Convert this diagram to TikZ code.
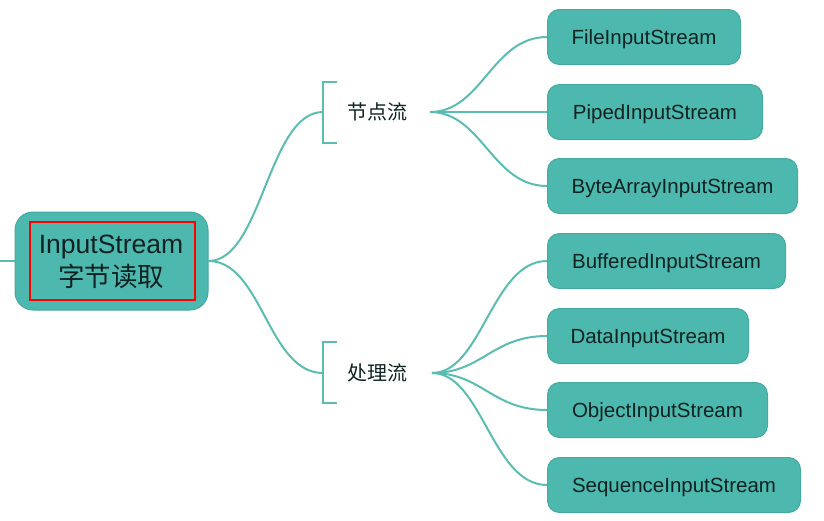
\documentclass[tikz,border=0pt]{standalone}
\usepackage{fontspec}
\setmainfont{Liberation Sans}
\newfontfamily\cjk{Noto Sans CJK SC}
\definecolor{tealfill}{HTML}{4DB8AE}
\definecolor{tealdraw}{HTML}{46A99F}
\definecolor{tealline}{HTML}{5BBDB2}
\definecolor{txt}{HTML}{0E2222}
\begin{document}
\begin{tikzpicture}[x=1pt,y=-1pt,
  leaf/.style={draw=tealdraw,line width=1pt,fill=tealfill,rounded corners=12pt,minimum height=55pt,inner xsep=0pt,text height=14pt,text depth=0pt,anchor=west,text=txt,font=\fontsize{20.5}{24}\selectfont},
  conn/.style={draw=tealline,line width=2pt},
  brk/.style={draw=tealline,line width=2pt},
  cat/.style={text=txt,font=\cjk\fontsize{20}{24}\selectfont,inner sep=0pt}]
\useasboundingbox (0,0) rectangle (824,520);
% main node
\node[draw=tealdraw,line width=1pt,fill=tealfill,rounded corners=18pt,minimum width=193pt,minimum height=98pt] (main) at (111.5,261) {};
\node[draw=red,line width=1.5pt,minimum width=165pt,minimum height=78pt,inner sep=0pt] (red) at (112.5,261) {};
\node[text=txt,align=center,font=\fontsize{26.5}{33}\selectfont] (maintxt) at (111,261.5) {InputStream\\{\cjk 字节读取}};
\coordinate (lin) at (0,261);
\draw[conn] (lin) -- (main.west);
% categories
\node[cat] (c1) at (377,112) {节点流};
\node[cat] (c2) at (377,373) {处理流};
\coordinate (b1) at (323,112);
\coordinate (b2) at (323,373);
\coordinate (f1) at (430,112);
\coordinate (f2) at (432,373);
\draw[brk] (337,82) -- (323,82) -- (323,143) -- (337,143);
\draw[brk] (337,342) -- (323,342) -- (323,403) -- (337,403);
\draw[conn] (main.east) .. controls (262,261) and (268,112) .. (b1);
\draw[conn] (main.east) .. controls (262,261) and (268,373) .. (b2);
% leaves
\node[leaf,minimum width=193pt] (l1) at (547,37) {FileInputStream};
\node[leaf,minimum width=215pt] (l2) at (547,112) {PipedInputStream};
\node[leaf,minimum width=250pt] (l3) at (547,186) {ByteArrayInputStream};
\node[leaf,minimum width=238pt] (l4) at (547,261) {BufferedInputStream};
\node[leaf,minimum width=201pt] (l5) at (547,336) {DataInputStream};
\node[leaf,minimum width=220pt] (l6) at (547,410) {ObjectInputStream};
\node[leaf,minimum width=253pt] (l7) at (547,485) {SequenceInputStream};
\draw[conn] (f1) .. controls (482,112) and (492,37) .. (l1.west);
\draw[conn] (f1) -- (l2.west);
\draw[conn] (f1) .. controls (482,112) and (492,186) .. (l3.west);
\draw[conn] (f2) .. controls (482,373) and (492,261) .. (l4.west);
\draw[conn] (f2) .. controls (482,373) and (492,336) .. (l5.west);
\draw[conn] (f2) .. controls (482,373) and (492,410) .. (l6.west);
\draw[conn] (f2) .. controls (482,373) and (492,485) .. (l7.west);
\end{tikzpicture}
\end{document}
